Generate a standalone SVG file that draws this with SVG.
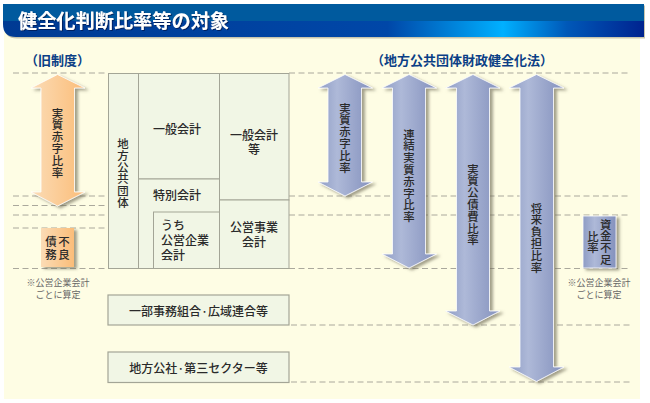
<svg xmlns="http://www.w3.org/2000/svg" width="650" height="403" viewBox="0 0 650 403">
<style>
text{font-family:"Noto Sans CJK JP","Noto Sans",sans-serif;fill:#2a2a2a;font-size:12px;font-weight:500;text-anchor:middle}
.v{font-size:11.400px}
.s{text-anchor:start}
.h{fill:#0b3f86;font-size:13px;font-weight:700}
.n{fill:#666;font-size:9px;font-weight:400}
.dot{font-size:7px;font-weight:700}
.d{stroke:#aaa89c;stroke-width:1;stroke-dasharray:6 3.5;fill:none}
.c{fill:#f1f6e5;stroke:#a3a596;stroke-width:1}
.b{fill:#f1f6e5;stroke:#a3a596;stroke-width:1.2}
</style>
<defs>
<linearGradient id="o" x1="0" x2="1" y1="0" y2="0"><stop offset="0" stop-color="#fbdcb6"/><stop offset="1" stop-color="#fbbd79"/></linearGradient>
<linearGradient id="p" x1="0" x2="1" y1="0" y2="0"><stop offset="0" stop-color="#8e9cc4"/><stop offset=".35" stop-color="#aeb9d8"/><stop offset="1" stop-color="#8491bd"/></linearGradient>
<linearGradient id="g" x1="0" x2="1" y1="0" y2="0"><stop offset="0" stop-color="#003a93"/><stop offset=".6" stop-color="#0047a8"/><stop offset=".78" stop-color="#00b0ff"/><stop offset=".88" stop-color="#0058b8"/><stop offset="1" stop-color="#00238f"/></linearGradient>
<filter id="s" x="-30%" y="-10%" width="170%" height="125%"><feDropShadow dx="3" dy="2" stdDeviation="1.6" flood-color="#6f6d58" flood-opacity=".65"/></filter>
<filter id="t" x="-5%" y="-20%" width="110%" height="150%"><feDropShadow dx="1" dy="1" stdDeviation=".7" flood-color="#001a55" flood-opacity=".8"/></filter>
</defs>
<rect width="650" height="403" fill="#fff"/>
<rect x="4" y="10" width="636" height="389" fill="#fefde4"/>
<g id="header">
<path d="M3 4H644V37H16Q3 37 3 24Z" fill="#c9c6ae" transform="translate(1 1.500)"/>
<path d="M3 4H644V37H16Q3 37 3 24Z" fill="url(#g)"/>
<path d="M3 4H644V21H3Z" fill="#005a9e"/>
<text x="18" y="28" filter="url(#t)" style="fill:#fff;font-size:19.2px;font-weight:700;text-anchor:start">健全化判断比率等の対象</text>
</g>
<g id="connectors">
<path class="d" d="M13 73H108M289 73H631M13 196H108M289 196H631M13 205.500H108M13 215H108M289 215H631M13 228H108M13 268.500H108M289 268.500H631M291 325H633M291 382H633"/>
</g>
<text class="h" x="57.500" y="65">（旧制度）</text>
<text class="h" x="462" y="65">（地方公共団体財政健全化法）</text>
<g id="table">
<rect class="c" x="108.500" y="73.500" width="30" height="195"/>
<rect class="c" x="138.500" y="73.500" width="81" height="105.500"/>
<rect class="c" x="138.500" y="179" width="81" height="89.500"/>
<rect class="c" x="153.500" y="212" width="66" height="56.500"/>
<rect class="c" x="219.500" y="73.500" width="69.500" height="126.500"/>
<rect class="c" x="219.500" y="200" width="69.500" height="68.500"/>
<text class="v" x="123 123 123 123 123 123" y="148 159.800 171.500 183.200 195 206.700">地方公共団体</text>
<text x="177" y="134">一般会計</text>
<text x="177" y="200">特別会計</text>
<text class="s" x="161 173 161 173 185 197 161 173" y="230 230 245 245 245 245 260 260">うち公営企業会計</text>
<text class="s" x="230 242 254 266 248" y="140 140 140 140 154">一般会計等</text>
<text class="s" x="230 242 254 266 242 254" y="232 232 232 232 247 247">公営事業会計</text>
</g>
<g id="box-ichibu"><rect class="b" x="108" y="295" width="181" height="30"/><text x="198.500" y="316">一部事務組合<tspan class="dot" dy="-2.500">・</tspan><tspan dy="2.500">広域連合等</tspan></text></g>
<g id="box-kosha"><rect class="b" x="108" y="352" width="181" height="30.500"/><text x="198.500" y="373">地方公社<tspan class="dot" dy="-2.500">・</tspan><tspan dy="2.500">第三セクター等</tspan></text></g>
<g id="arrow-old"><path filter="url(#s)" fill="url(#o)" stroke="#fff" stroke-width=".8" d="M57.500 74.500L85 88H74.500V192H85L57.500 206L31 192H41V88H31Z"/><text class="v" x="57.500 57.500 57.500 57.500 57.500 57.500" y="117.500 129.300 141.100 152.900 164.700 176.500">実質赤字比率</text></g>
<g id="box-fusai"><rect filter="url(#s)" x="41" y="228" width="33" height="39" fill="url(#o)"/><text class="v" x="64 64" y="246 258.500">不良</text><text class="v" x="51 51" y="246 258.500">債務</text></g>
<text class="n" x="58" y="286">※公営企業会計</text>
<text class="n" x="58" y="298">ごとに算定</text>
<g id="arrow-1"><path filter="url(#s)" fill="url(#p)" stroke="#fff" stroke-width=".8" d="M345 74.500L372.500 88H361.500V182H372.500L345 196L318 182H328V88H318Z"/><text class="v" x="345 345 345 345 345 345" y="112.500 124.300 136.100 147.900 159.700 171.500">実質赤字比率</text></g>
<g id="arrow-2"><path filter="url(#s)" fill="url(#p)" stroke="#fff" stroke-width=".8" d="M409 74.500L436.500 88H425.500V254H436.500L409 268L382 254H392.500V88H382Z"/><text class="v" x="409 409 409 409 409 409 409 409" y="138.500 150.300 162.100 173.900 185.700 197.500 209.300 221.100">連結実質赤字比率</text></g>
<g id="arrow-3"><path filter="url(#s)" fill="url(#p)" stroke="#fff" stroke-width=".8" d="M473 74.500L500 88H489.500V311H500L473 325L445.500 311H456.500V88H445.500Z"/><text class="v" x="473 473 473 473 473 473 473" y="173.500 185.300 197.100 208.900 220.700 232.500 244.300">実質公債費比率</text></g>
<g id="arrow-4"><path filter="url(#s)" fill="url(#p)" stroke="#fff" stroke-width=".8" d="M536.500 74.500L564 88H553.500V367H564L536.500 381.500L509 367H520V88H509Z"/><text class="v" x="536.500 536.500 536.500 536.500 536.500 536.500" y="212.500 224.300 236.100 247.900 259.700 271.500">将来負担比率</text></g>
<g id="box-shikin"><rect filter="url(#s)" x="583" y="216" width="33" height="52" fill="url(#p)" stroke="#fff" stroke-width=".8"/><text class="v" x="605.700 605.700 605.700 605.700" y="228.500 240.300 252.100 263.900">資金不足</text><text class="v" x="593 593" y="240.500 252.300">比率</text></g>
<text class="n" x="599" y="286">※公営企業会計</text>
<text class="n" x="599" y="298">ごとに算定</text>
</svg>
